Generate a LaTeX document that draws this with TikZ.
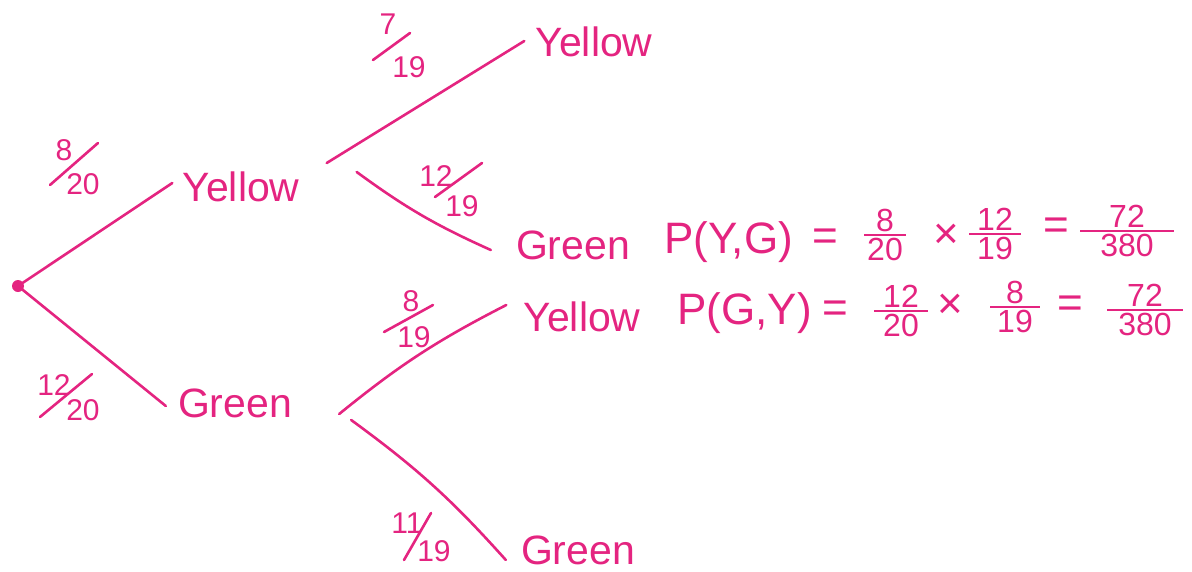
\documentclass[tikz,border=0pt]{standalone}
\usepackage{fontspec}
\usepackage{amsmath}
\setmainfont{Liberation Sans}
\definecolor{pen}{RGB}{228,36,128}
\newcommand\hfrac[3]{$\genfrac{}{}{2.4pt}{1}{\makebox[#1]{#2}}{\makebox[#1]{#3}}$}
\begin{document}
\begin{tikzpicture}[x=1pt,y=-1pt,
  penline/.style={draw=pen, line width=2.6pt, line cap=round},
  word/.style={text=pen, font=\fontsize{41}{44}\selectfont, inner sep=1pt},
  prob/.style={text=pen, font=\fontsize{30}{32}\selectfont, inner sep=0pt},
  eqtext/.style={text=pen, font=\fontsize{44}{46}\selectfont, inner sep=1pt},
  frac/.style={text=pen, font=\fontsize{32}{34}\selectfont, inner sep=0pt}]
\useasboundingbox (0,0) rectangle (1192,571);
% tree nodes
\coordinate (root) at (18,286);
\fill[pen] (root) circle (6);
\node[word] (y1) at (241,187) {Yellow};
\node[word] (g1) at (235,403) {Green};
\node[word] (yy) at (594,42) {Yellow};
\node[word] (yg) at (573,245) {Green};
\node[word] (gy) at (582,317) {Yellow};
\node[word] (gg) at (578,550) {Green};
% branches
\draw[penline] (root) -- ([shift={(-9,-4)}]y1.west);
\draw[penline] (root) -- ([shift={(-11,3)}]g1.west);
\draw[penline] ([shift={(26,-24)}]y1.east) -- ([shift={(-10,-1)}]yy.west);
\draw[penline] ([shift={(56,-15)}]y1.east) to[bend right=6] ([shift={(-24,5)}]yg.west);
\draw[penline] ([shift={(46,11)}]g1.east) to[bend left=6] ([shift={(-16,-12)}]gy.west);
\draw[penline] ([shift={(58,17)}]g1.east) to[bend left=6] ([shift={(-14,10)}]gg.west);
% branch probabilities: numerator, denominator, slash
\node[prob] (l1n) at (64,150) {8};
\node[prob] (l1d) at (83,184) {20};
\draw[penline] ([shift={(-14,35)}]l1n.center) -- ([shift={(15,-41)}]l1d.center);
\node[prob] (l2n) at (54,385) {12};
\node[prob] (l2d) at (83,410) {20};
\draw[penline] ([shift={(-14,32)}]l2n.center) -- ([shift={(9,-36)}]l2d.center);
\node[prob] (l3n) at (388,24) {7};
\node[prob] (l3d) at (409,67) {19};
\draw[penline] ([shift={(-15,36)}]l3n.center) -- ([shift={(1,-34)}]l3d.center);
\node[prob] (l4n) at (436,176) {12};
\node[prob] (l4d) at (462,206) {19};
\draw[penline] ([shift={(-1,21)}]l4n.center) -- ([shift={(20,-43)}]l4d.center);
\node[prob] (l5n) at (411,301) {8};
\node[prob] (l5d) at (414,337) {19};
\draw[penline] ([shift={(-27,31)}]l5n.center) -- ([shift={(19,-32)}]l5d.center);
\node[prob] (l6n) at (407,523) {11};
\node[prob] (l6d) at (434,551) {19};
\draw[penline] ([shift={(-3,37)}]l6n.center) -- ([shift={(-3,-38)}]l6d.center);
% equation 1
\node[eqtext,anchor=west] (p1) at (663,242) {P(Y,G)};
\node[eqtext] (e1a) at (825,240) {=};
\node[frac] (f1a) at (885,235) {\hfrac{42pt}{8}{20}};
\node[eqtext] (x1) at (946,236) {×};
\node[frac] (f1b) at (995,234) {\hfrac{52pt}{12}{19}};
\node[eqtext] (e1b) at (1056,229) {=};
\node[frac] (f1c) at (1127,231) {\hfrac{94pt}{72}{380}};
% equation 2
\node[eqtext,anchor=west] (p2) at (676,313) {P(G,Y)};
\node[eqtext] (e2a) at (835,312) {=};
\node[frac] (f2a) at (901,311) {\hfrac{54pt}{12}{20}};
\node[eqtext] (x2) at (950,306) {×};
\node[frac] (f2b) at (1015,307) {\hfrac{50pt}{8}{19}};
\node[eqtext] (e2b) at (1070,307) {=};
\node[frac] (f2c) at (1145,310) {\hfrac{76pt}{72}{380}};
\end{tikzpicture}
\end{document}
